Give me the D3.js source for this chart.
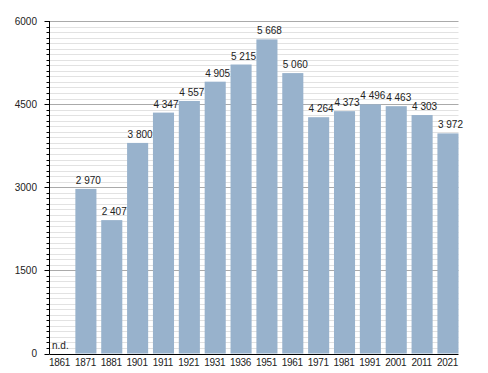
<!DOCTYPE html>
<html>
<head>
<meta charset="utf-8">
<script src="https://cdnjs.cloudflare.com/ajax/libs/d3/7.8.5/d3.min.js"></script>
<style>
	body{margin:0;background:#fff;}
	text{font-family:"Liberation Sans",Arial,sans-serif;font-size:10px;fill:#222;}
</style>
</head>
<body>
<div id="chart"></div>
<script>
var years=["1861","1871","1881","1901","1911","1921","1931","1936","1951","1961","1971","1981","1991","2001","2011","2021"];
var population=[null,2970,2407,3800,4347,4557,4905,5215,5668,5060,4264,4373,4496,4463,4303,3972];
var yticks=[0,1500,3000,4500,6000];

var width=488,height=373;
var plotleft=49.5,plotright=458.5,plottop=21,plotbottom=353.5;
var barcolor="#98b2cc";

var svg=d3.select("#chart").append("svg")
		.attr("width",width)
		.attr("height",height);

var x=d3.scaleBand().domain(years).range([plotleft,plotright]).paddingInner(0.185).paddingOuter(0);
var y=d3.scaleLinear().domain([0,6000]).range([plotbottom,plottop]);

//minor grid every 100, major every 1500
var minor=d3.range(100,6000,100).filter(function(d){return d%1500!=0;});
svg.append("g").selectAll("line")
	.data(minor)
	.enter().append("line")
	.attr("x1",plotleft).attr("x2",plotright)
	.attr("y1",function(d){return Math.round(y(d))+0.5;})
	.attr("y2",function(d){return Math.round(y(d))+0.5;})
	.style("stroke","#e2e2e2");
svg.append("g").selectAll("line")
	.data(yticks.slice(1))
	.enter().append("line")
	.attr("x1",plotleft).attr("x2",plotright)
	.attr("y1",function(d){return Math.round(y(d))+0.5;})
	.attr("y2",function(d){return Math.round(y(d))+0.5;})
	.style("stroke","#aaaaaa");

//bars
svg.append("g").selectAll("rect")
	.data(years.filter(function(d,i){return population[i]!=null;}))
	.enter().append("rect")
	.attr("x",function(d){return x(d);})
	.attr("width",x.bandwidth())
	.attr("y",function(d){return y(population[years.indexOf(d)]);})
	.attr("height",function(d){return plotbottom-y(population[years.indexOf(d)]);})
	.style("fill",barcolor);

//value labels, left aligned on the bar
var fmt=function(v){return d3.format(",")(v).replace(/,/g," ");};
svg.append("g").selectAll("text")
	.data(years)
	.enter().append("text")
	.attr("x",function(d,i){return x(d)+(population[i]==null?2.5:0.5);})
	.attr("y",function(d,i){
		if(population[i]==null){return plotbottom-5;}
		return y(population[i])-5;
	})
	.text(function(d,i){return population[i]==null?"n.d.":fmt(population[i]);});

//y axis with minor ticks
var yaxis=svg.append("g").attr("transform","translate("+plotleft+",0)");
yaxis.selectAll("line.minor")
	.data(minor)
	.enter().append("line")
	.attr("class","minor")
	.attr("x1",-3).attr("x2",0)
	.attr("y1",function(d){return Math.round(y(d))+0.5;})
	.attr("y2",function(d){return Math.round(y(d))+0.5;})
	.style("stroke","#000");
yaxis.selectAll("line.major")
	.data(yticks)
	.enter().append("line")
	.attr("class","major")
	.attr("x1",-5).attr("x2",0)
	.attr("y1",function(d){return Math.round(y(d))+0.5;})
	.attr("y2",function(d){return Math.round(y(d))+0.5;})
	.style("stroke","#000");
yaxis.append("line")
	.attr("x1",0).attr("x2",0)
	.attr("y1",plottop).attr("y2",plotbottom+0.5)
	.style("stroke","#000");
yaxis.selectAll("text")
	.data(yticks)
	.enter().append("text")
	.attr("x",-12.5)
	.attr("y",function(d){return y(d);})
	.attr("dy","0.35em")
	.attr("text-anchor","end")
	.text(function(d){return d;});

//x axis
svg.append("line")
	.attr("x1",plotleft).attr("x2",plotright)
	.attr("y1",Math.round(plotbottom)+0.5).attr("y2",Math.round(plotbottom)+0.5)
	.style("stroke","#000");
svg.append("g").selectAll("text")
	.data(years)
	.enter().append("text")
	.attr("x",function(d){return x(d)+x.bandwidth()/2-0.5;})
	.attr("y",plotbottom+12)
	.attr("text-anchor","middle")
	.style("letter-spacing","-0.3px")
	.text(function(d){return d;});
</script>
</body>
</html>
